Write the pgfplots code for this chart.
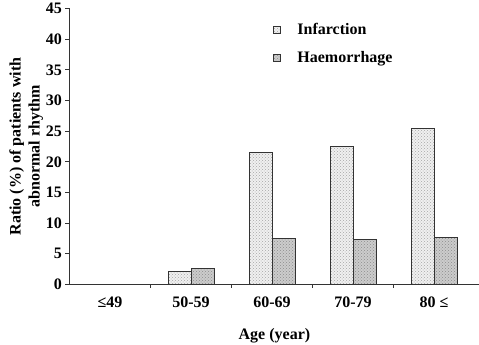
\documentclass[border=0pt]{standalone}
\usepackage{pgfplots}
\pgfplotsset{compat=1.18}
\usepackage{fontspec}
\setmainfont{Liberation Serif}
\usetikzlibrary{patterns}
\newcommand\f{\fontsize{16}{18}\selectfont\bfseries}
\begin{document}
\begin{tikzpicture}
\path[use as bounding box] (-69.5pt,-60.5pt) rectangle (409.5pt,284.5pt);
\begin{axis}[
  at={(0,0)}, anchor=origin,
  scale only axis, width=409.9pt, height=276pt,
  xmin=0, xmax=5.06, ymin=0, ymax=45,
  axis lines*=left,
  axis line style={line width=0.8pt, black!80},
  ybar=0pt, bar width=23pt,
  ytick={0,5,...,45},
  xtick={0.5,1.5,2.5,3.5,4.5},
  xticklabels={{≤49},{50-59},{60-69},{70-79},{80 ≤}},
  minor xtick={1,2,3,4},
  tick align=outside,
  major x tick style={draw=none},
  minor x tick style={black!80, line width=0.8pt},
  minor tick length=3pt,
  y tick style={black!80, line width=0.8pt},
  major tick length=4pt,
  /pgf/number format/assume math mode=true,
  tick label style={font=\f},
  xticklabel style={yshift=-5pt},
  xlabel={Age (year)},
  xlabel style={font=\f, yshift=-14pt},
  ylabel={Ratio (\%) of patients with\\abnormal rhythm},
  ylabel style={font=\fontsize{16}{19}\selectfont\bfseries, align=center, yshift=-4pt},
  legend cell align=left,
  legend style={at={(axis cs:2.47,45)}, anchor=north west, draw=none, fill=none,
    font=\f, row sep=11pt, yshift=-11pt, nodes={inner xsep=10pt}},
  legend image code/.code={\draw[#1, line width=0.5pt] (0pt,-3.5pt) rectangle (7pt,3.5pt); \path (14pt,0pt);},
]
\addplot[draw=black!80, line width=0.8pt, fill=gray!12,
  postaction={pattern=crosshatch dots, pattern color=gray!70}]
  coordinates {(0.5,0) (1.5,2.1) (2.5,21.6) (3.5,22.5) (4.5,25.4)};
\addplot[draw=black!80, line width=0.8pt, fill=gray!40,
  postaction={pattern=crosshatch dots, pattern color=gray!90}]
  coordinates {(0.5,0) (1.5,2.6) (2.5,7.5) (3.5,7.3) (4.5,7.7)};
\legend{Infarction, Haemorrhage}
\end{axis}
\end{tikzpicture}
\end{document}
